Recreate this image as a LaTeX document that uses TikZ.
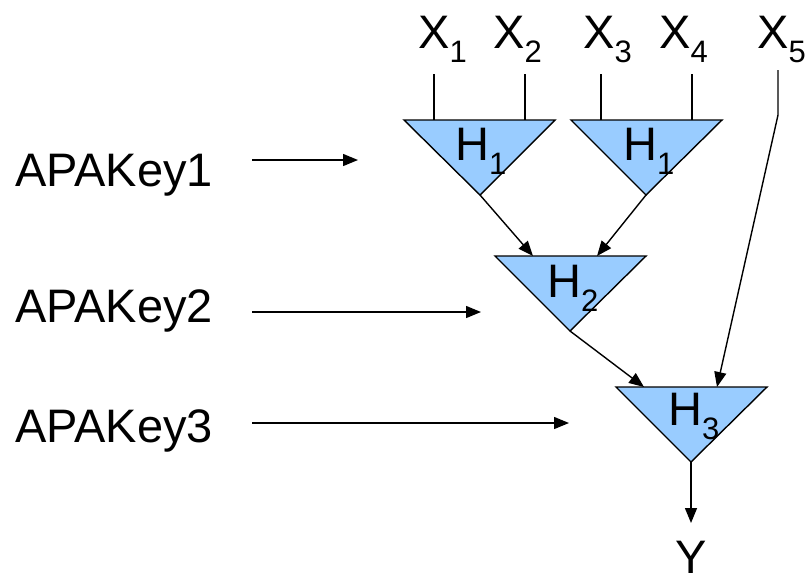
\documentclass[tikz,border=0pt]{standalone}
\usepackage{fontspec}
\setmainfont{Liberation Sans}
\usetikzlibrary{arrows.meta}
\newcommand{\bigtext}{\fontsize{47}{47}\selectfont}
\newcommand{\subtext}[1]{\raisebox{-14pt}{\fontsize{31}{31}\selectfont #1}}
\begin{document}
\begin{tikzpicture}[x=1pt,y=-1pt,
  gate/.style={draw=black,line width=1.4pt,fill=gatefill,line join=miter},
  wire/.style={draw=black,line width=1.4pt},
  flow/.style={wire,-{Triangle[length=15pt,width=12pt]}},
  lbl/.style={inner sep=0pt,anchor=base west,font=\bigtext},
]
\definecolor{gatefill}{HTML}{99CCFF}
\useasboundingbox (0,0) rectangle (805,574);

% gate corners: a = top left, b = top right, c = apex
\coordinate (g1a) at (404,120); \coordinate (g1b) at (555,120); \coordinate (g1c) at (480,195);
\coordinate (g2a) at (571,120); \coordinate (g2b) at (722,120); \coordinate (g2c) at (646,195);
\coordinate (g3a) at (495,256); \coordinate (g3b) at (646,256); \coordinate (g3c) at (570,331);
\coordinate (g4a) at (616,387); \coordinate (g4b) at (767,387); \coordinate (g4c) at (691,462);

\foreach \g in {g1,g2,g3,g4}
  \path[gate] (\g a) -- (\g b) -- (\g c) -- cycle;

% gate labels
\node[lbl] (h1a) at (455,160) {H\subtext{1}};
\node[lbl] (h1b) at (623,160) {H\subtext{1}};
\node[lbl] (h2)  at (547,297) {H\subtext{2}};
\node[lbl] (h3)  at (668,425) {H\subtext{3}};

% inputs
\node[lbl] (x1) at (418,48) {X\subtext{1}};
\node[lbl] (x2) at (493,48) {X\subtext{2}};
\node[lbl] (x3) at (583,48) {X\subtext{3}};
\node[lbl] (x4) at (659,48) {X\subtext{4}};
\node[lbl] (x5) at (757,48) {X\subtext{5}};

\coordinate (x1s) at (434,74);  \coordinate (x1e) at (434,120);
\coordinate (x2s) at (525,74);  \coordinate (x2e) at (525,120);
\coordinate (x3s) at (601,74);  \coordinate (x3e) at (601,120);
\coordinate (x4s) at (692,74);  \coordinate (x4e) at (692,120);
\coordinate (x5s) at (778,70);  \coordinate (x5k) at (778,115);

\draw[wire] (x1s) -- (x1e);
\draw[wire] (x2s) -- (x2e);
\draw[wire] (x3s) -- (x3e);
\draw[wire] (x4s) -- (x4e);

% inner connections
\coordinate (g3in1) at (533,256); \coordinate (g3in2) at (597,256);
\coordinate (g4in1) at (644,387); \coordinate (g4in2) at (717,387);
\draw[flow] (g1c) -- (g3in1);
\draw[flow] (g2c) -- (g3in2);
\draw[flow] (g3c) -- (g4in1);
\draw[flow] (x5s) -- (x5k) -- (g4in2);

% output
\node[lbl,anchor=base] (y) at (691,573) {Y};
\coordinate (yin) at (691,523);
\draw[flow] (g4c) -- (yin);

% keys
\node[lbl] (k1) at (15,186) {APAKey1};
\node[lbl] (k2) at (15,322) {APAKey2};
\node[lbl] (k3) at (15,442) {APAKey3};
\coordinate (k1s) at (252,160); \coordinate (k1e) at (358,160);
\coordinate (k2s) at (252,312); \coordinate (k2e) at (481,312);
\coordinate (k3s) at (252,423); \coordinate (k3e) at (569,423);
\draw[flow] (k1s) -- (k1e);
\draw[flow] (k2s) -- (k2e);
\draw[flow] (k3s) -- (k3e);
\end{tikzpicture}
\end{document}
